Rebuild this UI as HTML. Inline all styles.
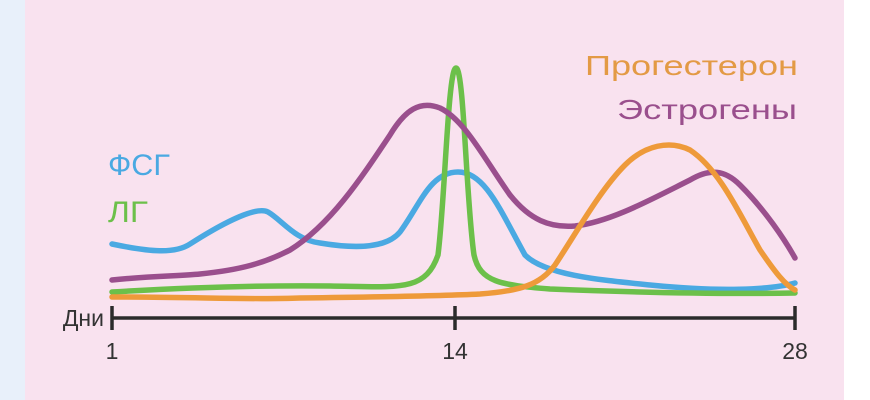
<!DOCTYPE html>
<html><head><meta charset="utf-8"><style>
html,body{margin:0;padding:0;background:#fff}
svg{display:block}
text{font-family:"Liberation Sans","DejaVu Sans",sans-serif}
</style></head><body>
<svg width="870" height="400" viewBox="0 0 870 400" xmlns="http://www.w3.org/2000/svg">
<rect x="0" y="0" width="870" height="400" fill="#fff"/>
<rect x="0" y="0" width="844" height="400" fill="#f9e2ef"/>
<rect x="0" y="0" width="25" height="400" fill="#e8f0fa"/>
<g fill="none" stroke-width="5.5" stroke-linecap="round" stroke-linejoin="round">
<path stroke="#4aa9e2" d="M112,244 C150,252 175,254 190,244 C215,228 255,205 268,212 C282,220 295,240 320,243 C350,248 385,250 400,232 C420,205 430,172 458,172 C485,172 500,210 525,255 C545,275 600,280 650,285 C720,292 770,290 795,283"/>
<path stroke="#6cc04a" d="M112,292 C180,288 250,285 330,286 C400,287 425,292 438,255 C445,200 448,68 456,68 C464,68 466,200 474,255 C480,282 500,285 550,289 C650,293 740,294 795,293"/>
<path stroke="#9a4f8d" d="M112,280 C150,276 180,276 200,274 C240,270 265,263 290,250 C330,225 360,180 390,135 C405,110 420,100 440,108 C465,120 485,160 510,195 C530,220 550,228 575,226 C610,222 650,200 690,180 C710,168 725,170 740,185 C765,210 785,240 795,258"/>
<path stroke="#ee9a3a" d="M112,297 C200,297 250,300 300,298 C380,297 440,296 480,294 C520,291 540,285 555,265 C575,235 600,190 625,165 C645,145 670,140 690,150 C720,170 740,215 760,250 C775,272 785,285 795,290"/>
</g>
<g stroke="#2b2b2b" stroke-width="3.5">
<line x1="112" y1="318" x2="795" y2="318"/>
<line x1="112" y1="306" x2="112" y2="330"/>
<line x1="455" y1="306" x2="455" y2="330"/>
<line x1="795" y1="306" x2="795" y2="330"/>
</g>
<g fill="#333" font-size="23">
<text x="104" y="326" text-anchor="end">Дни</text>
<text x="112" y="359" text-anchor="middle">1</text>
<text x="455" y="359" text-anchor="middle">14</text>
<text x="795" y="359" text-anchor="middle">28</text>
</g>
<text x="108" y="175" font-size="30" fill="#4aa9e2" textLength="62" lengthAdjust="spacingAndGlyphs">ФСГ</text>
<text x="108" y="222" font-size="30" fill="#6cc04a" textLength="40" lengthAdjust="spacingAndGlyphs">ЛГ</text>
<text x="798" y="75" font-size="28" fill="#e39a45" text-anchor="end" textLength="213" lengthAdjust="spacingAndGlyphs">Прогестерон</text>
<text x="797" y="119" font-size="28" fill="#9a4f8d" text-anchor="end" textLength="180" lengthAdjust="spacingAndGlyphs">Эстрогены</text>
</svg>
</body></html>
